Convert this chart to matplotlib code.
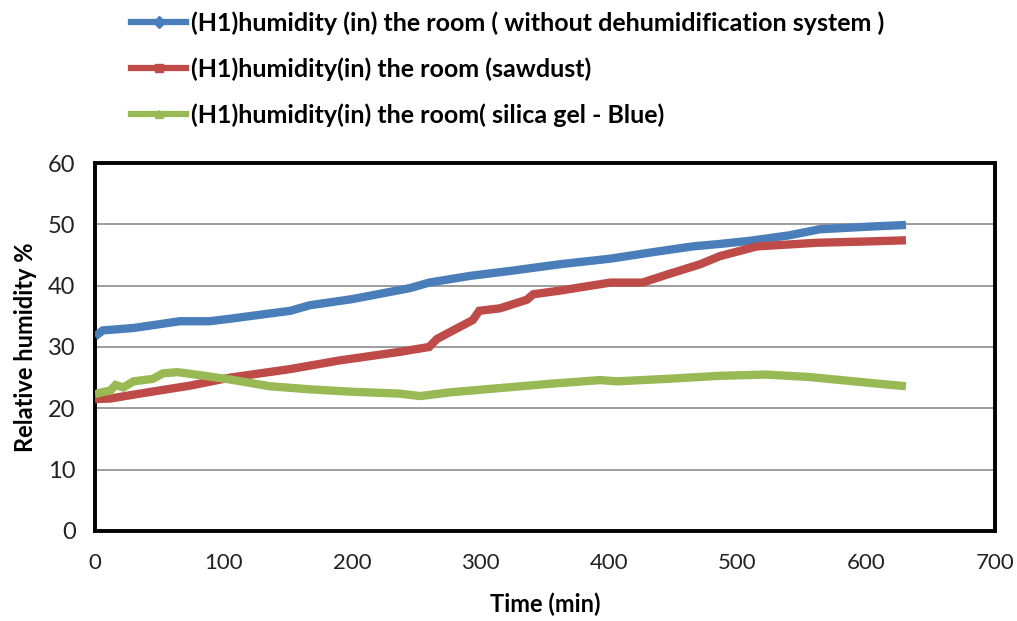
import numpy as np
import matplotlib
matplotlib.use('Agg')
import matplotlib.pyplot as plt
from matplotlib.lines import Line2D

plt.rcParams['font.family'] = ['Lato', 'DejaVu Sans']

# time (min) and relative humidity (%)
t_none = [0, 6, 30, 66, 89, 105, 130, 152, 167, 200, 245, 260, 292, 323, 362,
          401, 432, 465, 486, 509, 540, 564, 600, 631]
h_none = [31.7, 32.7, 33.1, 34.2, 34.2, 34.6, 35.3, 35.9, 36.8, 37.8, 39.6, 40.5,
          41.6, 42.4, 43.5, 44.4, 45.4, 46.4, 46.8, 47.3, 48.2, 49.2, 49.6, 49.9]

t_saw = [0, 12, 35, 74, 105, 152, 190, 237, 260, 266, 294, 299, 315, 336, 341,
         362, 401, 426, 445, 471, 486, 515, 562, 600, 631]
h_saw = [21.5, 21.6, 22.4, 23.7, 25.0, 26.4, 27.8, 29.2, 30.0, 31.3, 34.4, 35.9,
         36.3, 37.7, 38.6, 39.2, 40.5, 40.5, 41.8, 43.5, 44.8, 46.4, 47.0, 47.2, 47.4]

t_gel = [0, 5, 12, 16, 22, 30, 45, 53, 64, 82, 105, 136, 167, 200, 237, 253,
         276, 315, 354, 393, 406, 445, 486, 522, 556, 610, 631]
h_gel = [22.3, 22.6, 22.9, 23.8, 23.4, 24.4, 24.8, 25.7, 25.9, 25.4, 24.7, 23.6,
         23.1, 22.7, 22.4, 22.0, 22.6, 23.3, 24.0, 24.6, 24.4, 24.8, 25.3, 25.5,
         25.1, 24.0, 23.6]

labels = ['(H1)humidity (in) the room ( without dehumidification system )',
          '(H1)humidity(in) the room (sawdust)',
          '(H1)humidity(in) the room( silica gel - Blue)']
colors = ['#4a7ebb', '#be4b48', '#98b954']
markers = ['D', 's', '^']

fig = plt.figure(figsize=(10.17, 6.21), dpi=100)
ax = fig.add_axes([0.0934, 0.145, 0.8846, 0.5925])

for t, h, c in zip([t_none, t_saw, t_gel], [h_none, h_saw, h_gel], colors):
    ax.plot(t, h, color=c, lw=6, solid_joinstyle='miter', solid_capstyle='butt', zorder=3)

ax.set_xlim(0, 700)
ax.set_ylim(0, 60)
ax.set_xticks(range(0, 701, 100))
ax.set_yticks(range(0, 61, 10))
ax.yaxis.grid(True, color='#8c8c8c', lw=1.2)
ax.set_axisbelow(True)
ax.tick_params(length=0, colors='#222222')
ax.tick_params(axis='x', pad=16, labelsize=16)
ax.tick_params(axis='y', pad=14, labelsize=17)
for s in ax.spines.values():
    s.set_linewidth(2.8)
    s.set_color('black')

ax.set_xlabel('Time (min)', fontsize=17, fontweight='bold', labelpad=14)
ax.set_ylabel('Relative humidity %', fontsize=17, fontweight='bold', labelpad=8)

handles = [Line2D([], [], color=c, lw=4.5, marker=m, markersize=6)
           for c, m in zip(colors, markers)]
fig.legend(handles, labels, loc='upper left', bbox_to_anchor=(0.107, 1.018),
           frameon=False, prop={'size': 18, 'weight': 'bold'},
           handlelength=2.2, handletextpad=0.2, labelspacing=0.9)

fig.savefig('out.png', dpi=100)
